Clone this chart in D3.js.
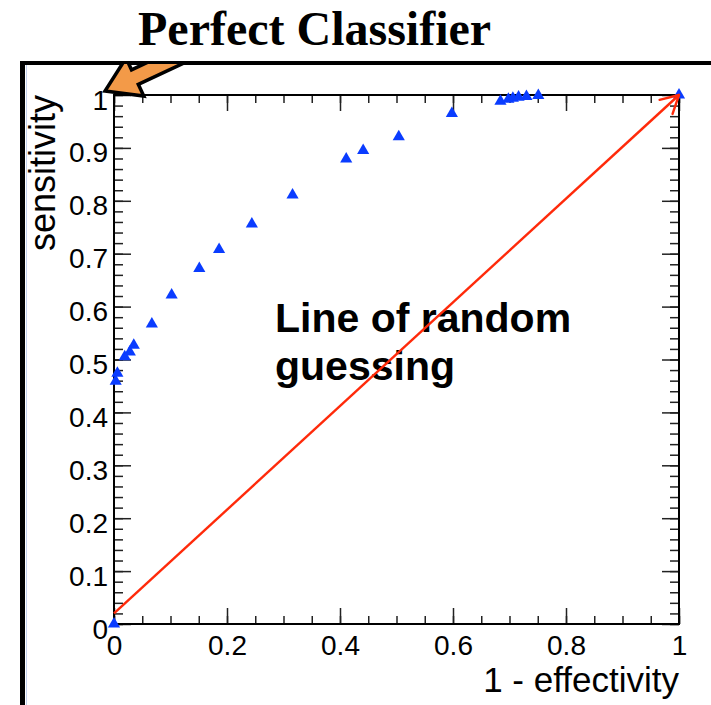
<!DOCTYPE html>
<html>
<head>
<meta charset="utf-8">
<script src="https://cdn.jsdelivr.net/npm/d3@7"></script>
<style>
  html, body { margin: 0; padding: 0; background: #fff; }
  svg { display: block; }
</style>
</head>
<body>
<div id="chart"></div>
<script>
// ROC points: 1 - effectivity vs sensitivity
const falsePositive = [0, 0.003, 0.006, 0.019, 0.028, 0.035, 0.067, 0.102, 0.151, 0.186,
  0.244, 0.316, 0.411, 0.441, 0.504, 0.598, 0.684, 0.698, 0.706, 0.716, 0.730, 0.751, 1.0];
const sensitivity = [0, 0.459, 0.474, 0.505, 0.514, 0.527, 0.567, 0.622, 0.672, 0.708,
  0.756, 0.811, 0.879, 0.895, 0.921, 0.965, 0.988, 0.992, 0.994, 0.996, 0.997, 0.999, 1.0];

// line of random guessing (start, end)
const guessX = [0, 1];
const guessY = [0.02, 1];

const xTicks = [0, 0.2, 0.4, 0.6, 0.8, 1];
const xTickLabels = ['0', '0.2', '0.4', '0.6', '0.8', '1'];
const yTicks = [0, 0.1, 0.2, 0.3, 0.4, 0.5, 0.6, 0.7, 0.8, 0.9, 1];
const yTickLabels = ['0', '0.1', '0.2', '0.3', '0.4', '0.5', '0.6', '0.7', '0.8', '0.9', '1'];

const width = 711, height = 705;
let margin = {left: 114, right: 32, top: 95, bottom: 81};
const plotW = width - margin.left - margin.right;
const plotH = height - margin.top - margin.bottom;

const svg = d3.select('#chart').append('svg')
    .attr('width', width)
    .attr('height', height);

let x = d3.scaleLinear().domain([0, 1]).range([0, plotW]);
let y = d3.scaleLinear().domain([0, 1]).range([plotH, 0]);

// slide frame
svg.append('rect').attr('x', 20).attr('y', 61).attr('width', 5).attr('height', height - 61).attr('fill', '#000');
svg.append('rect').attr('x', 20).attr('y', 61).attr('width', width - 20).attr('height', 4).attr('fill', '#000');
svg.append('line').attr('x1', 26.5).attr('x2', 26.5).attr('y1', 65).attr('y2', height)
    .attr('stroke', '#c4d2ee').attr('stroke-width', 1);

// title
svg.append('text')
    .attr('x', 138).attr('y', 45)
    .style('font-family', '"Liberation Serif", "Times New Roman", serif')
    .style('font-weight', 'bold')
    .style('font-size', '48px')
    .text('Perfect Classifier');

let g = svg.append('g')
    .attr('transform', 'translate(' + margin.left + ',' + margin.top + ')');

const tickColor = '#222';

function drawAxis(axis, transform, fmt) {
  let a = g.append('g').attr('transform', transform).call(axis);
  a.select('.domain').remove();
  a.selectAll('line').attr('stroke', tickColor).attr('stroke-width', 1.5);
  a.selectAll('text')
      .style('font-family', '"Liberation Sans", Arial, sans-serif')
      .style('font-size', '28px')
      .attr('fill', '#000');
  if (!fmt) a.selectAll('text').remove();
  return a;
}

const xMinor = d3.range(0, 1.0001, 0.05);
const yMinor = d3.range(0, 1.0001, 0.02);

// bottom axis
drawAxis(d3.axisBottom(x).tickValues(xMinor).tickSize(-8).tickFormat(''), 'translate(0,' + plotH + ')', false);
let xb = drawAxis(d3.axisBottom(x).tickValues(xTicks).tickSize(-16).tickPadding(11)
    .tickFormat((d, i) => xTickLabels[i]), 'translate(0,' + plotH + ')', true);
// top axis (ticks only)
drawAxis(d3.axisTop(x).tickValues(xMinor).tickSize(-8).tickFormat(''), 'translate(0,0)', false);
drawAxis(d3.axisTop(x).tickValues(xTicks).tickSize(-16).tickFormat(''), 'translate(0,0)', false);

// left axis
drawAxis(d3.axisLeft(y).tickValues(yMinor).tickSize(-9).tickFormat(''), 'translate(0,0)', false);
let yl = drawAxis(d3.axisLeft(y).tickValues(yTicks).tickSize(-17).tickPadding(6)
    .tickFormat((d, i) => yTickLabels[i]), 'translate(0,0)', true);
yl.selectAll('text').attr('dy', '0.5em');
// right axis (ticks only)
drawAxis(d3.axisRight(y).tickValues(yMinor).tickSize(-9).tickFormat(''), 'translate(' + plotW + ',0)', false);
drawAxis(d3.axisRight(y).tickValues(yTicks).tickSize(-17).tickFormat(''), 'translate(' + plotW + ',0)', false);

// frame
g.append('rect')
    .attr('width', plotW).attr('height', plotH)
    .attr('fill', 'none').attr('stroke', '#000').attr('stroke-width', 2);

// axis titles
g.append('text')
    .attr('x', plotW).attr('y', plotH + 68)
    .attr('text-anchor', 'end')
    .style('font-family', '"Liberation Sans", Arial, sans-serif')
    .style('font-size', '35px')
    .text('1 - effectivity');

g.append('text')
    .attr('transform', 'translate(' + (55 - margin.left) + ',0) rotate(-90)')
    .attr('text-anchor', 'end')
    .style('font-family', '"Liberation Sans", Arial, sans-serif')
    .style('font-size', '36px')
    .text('sensitivity');

// annotation text
let note = g.append('text')
    .style('font-family', '"Liberation Sans", Arial, sans-serif')
    .style('font-weight', 'bold')
    .style('font-size', '41px')
    .attr('fill', '#000');
note.append('tspan').attr('x', 161).attr('y', 237).text('Line of random');
note.append('tspan').attr('x', 161).attr('y', 285).text('guessing');

// data points
g.selectAll('.pt')
    .data(falsePositive.map((d, i) => [d, sensitivity[i]]))
    .enter().append('path')
    .attr('class', 'pt')
    .attr('transform', d => 'translate(' + x(d[0]) + ',' + y(d[1]) + ')')
    .attr('d', d3.symbol().type(d3.symbolTriangle).size(64))
    .attr('fill', '#0a3cff');

// random guess line with open arrow head
const red = '#ff2a0a';
const x0 = x(guessX[0]), y0 = y(guessY[0]), x1 = x(guessX[1]), y1 = y(guessY[1]);
g.append('line')
    .attr('x1', x0).attr('y1', y0).attr('x2', x1).attr('y2', y1)
    .attr('stroke', red).attr('stroke-width', 2.4);
const ang = Math.atan2(y1 - y0, x1 - x0);
[-0.5, 0.5].forEach(function(off) {
  g.append('line')
      .attr('x1', x1).attr('y1', y1)
      .attr('x2', x1 - 20 * Math.cos(ang + off))
      .attr('y2', y1 - 20 * Math.sin(ang + off))
      .attr('stroke', red).attr('stroke-width', 2.4)
      .attr('stroke-linecap', 'round');
});

// orange arrow pointing at the perfect classifier corner
svg.append('clipPath').attr('id', 'arrowClip')
    .append('rect').attr('x', 0).attr('y', 64).attr('width', width).attr('height', height);
const tip = [margin.left + x(0) - 9, margin.top + y(1) - 4];
const th = -25 * Math.PI / 180;
const u = [Math.cos(th), Math.sin(th)], n = [-Math.sin(th), Math.cos(th)];
const headL = 33, headW = 21, shaftW = 8, tailL = 130;
function pt(a, b) { return [tip[0] + a * u[0] + b * n[0], tip[1] + a * u[1] + b * n[1]]; }
const arrowPts = [pt(0, 0), pt(headL, headW), pt(headL, shaftW), pt(tailL, shaftW),
  pt(tailL, -shaftW), pt(headL, -shaftW), pt(headL, -headW)];
svg.append('path')
    .attr('clip-path', 'url(#arrowClip)')
    .attr('d', d3.line()(arrowPts) + 'Z')
    .attr('fill', '#f39a48')
    .attr('stroke', '#000')
    .attr('stroke-width', 3.5)
    .attr('stroke-linejoin', 'miter');
</script>
</body>
</html>
